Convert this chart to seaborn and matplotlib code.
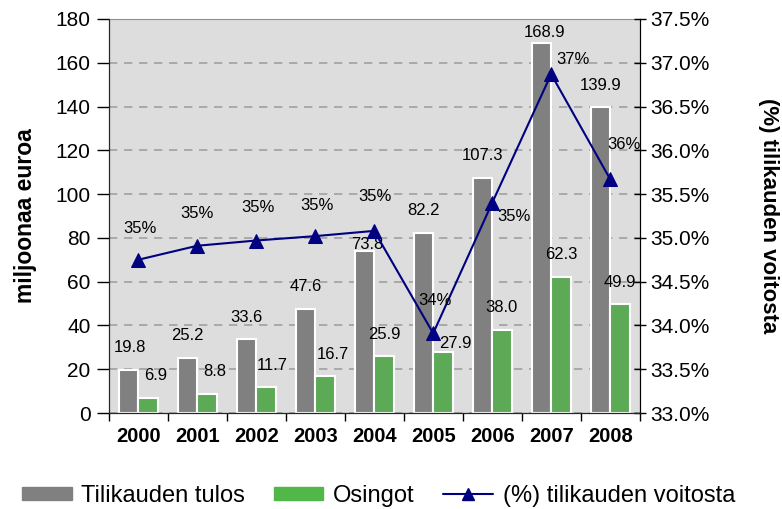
import numpy as np
import pandas as pd
import matplotlib
matplotlib.use("Agg")
import matplotlib.pyplot as plt
import seaborn as sns
from matplotlib.ticker import FuncFormatter, MultipleLocator
from matplotlib.lines import Line2D

# data
years = ['2000', '2001', '2002', '2003', '2004', '2005', '2006', '2007', '2008']
tulos = [19.8, 25.2, 33.6, 47.6, 73.8, 82.2, 107.3, 168.9, 139.9]
osingot = [6.9, 8.8, 11.7, 16.7, 25.9, 27.9, 38.0, 62.3, 49.9]
osuus = [34.75, 34.91, 34.97, 35.02, 35.08, 33.91, 35.40, 36.87, 35.67]
osuus_labels = ['35%', '35%', '35%', '35%', '35%', '34%', '35%', '37%', '36%']

# label placement (pixels from the mark)
tulos_off = [(1, 22), (0, 22), (0, 22), (0, 22), (3, 7), (0, 23), (0, 23), (3, 11), (0, 21)]
osingot_off = [(8, 22), (8, 22), (6, 22), (8, 22), (0, 22), (12, 8), (0, 22), (0, 22), (0, 21)]
osuus_off = [(2, 31), (0, 32), (2, 33), (2, 31), (1, 34), (2, 33), (22, -14), (22, 15), (14, 35)]

df = pd.DataFrame({'vuosi': years * 2,
                   'sarja': ['Tilikauden tulos'] * 9 + ['Osingot'] * 9,
                   'arvo': tulos + osingot})

sns.set_style("white")
plt.rcParams['font.family'] = ['Liberation Sans', 'DejaVu Sans']
plt.rcParams.update({'text.color': 'black', 'axes.labelcolor': 'black',
                     'xtick.color': 'black', 'ytick.color': 'black'})

fig = plt.figure(figsize=(7.82, 5.09), dpi=100)
ax = fig.add_axes([0.139, 0.1886, 0.679, 0.7741])
ax.set_facecolor('#DDDDDD')

sns.barplot(data=df, x='vuosi', y='arvo', hue='sarja', palette=['#808080', '#50B748'],
            width=0.66, edgecolor='white', linewidth=1.5, ax=ax)
ax.legend_.remove()

ax.set_xlim(-0.5, 8.5)
ax.set_ylim(0, 180)
ax.yaxis.set_major_locator(MultipleLocator(20))
ax.grid(axis='y', color='#A0A0A0', linestyle=(0, (5, 4)), linewidth=1.2)
ax.set_axisbelow(True)
ax.set_xlabel('')
ax.set_ylabel('miljoonaa euroa', fontsize=16.5, fontweight='bold', labelpad=13)
ax.tick_params(axis='y', labelsize=15, direction='out', length=9, width=1, pad=4, left=True)
ax.tick_params(axis='x', labelsize=14.5, length=0, pad=10)
for t in ax.get_xticklabels():
    t.set_fontweight('bold')
ax.set_xticks(np.arange(-0.5, 9, 1), minor=True)
ax.tick_params(axis='x', which='minor', direction='out', length=6, width=1, bottom=True)
for s in ['left', 'bottom', 'right']:
    ax.spines[s].set_color('black')
ax.spines['top'].set_color('#909090')

# bar value labels
for i in range(len(years)):
    ax.annotate(f'{tulos[i]:.1f}', (i - 0.165, tulos[i]), xytext=tulos_off[i], textcoords='offset pixels',
                ha='center', va='center', fontsize=12)
    ax.annotate(f'{osingot[i]:.1f}', (i + 0.165, osingot[i]), xytext=osingot_off[i], textcoords='offset pixels',
                ha='center', va='center', fontsize=12)

# share line on the right axis
ax2 = ax.twinx()
sns.lineplot(x=np.arange(len(years)), y=osuus, color='#000080', linewidth=1.5, marker='^',
             markersize=10, markeredgecolor='#000080', ax=ax2)
ax2.set_ylim(33.0, 37.5)
ax2.yaxis.set_major_locator(MultipleLocator(0.5))
ax2.yaxis.set_major_formatter(FuncFormatter(lambda v, p: f'{v:.1f}%'))
ax2.tick_params(axis='y', labelsize=15, direction='inout', length=8, width=1, right=True)
ax2.set_ylabel('(%) tilikauden voitosta', fontsize=16, fontweight='bold', rotation=270, labelpad=50)
ax2.spines['right'].set_color('black')
ax2.spines['top'].set_visible(False)

for i, (lab, off) in enumerate(zip(osuus_labels, osuus_off)):
    ax2.annotate(lab, (i, osuus[i]), xytext=off, textcoords='offset pixels',
                 ha='center', va='center', fontsize=12)

# legend at the bottom
handles = [plt.Rectangle((0, 0), 1, 1, color='#808080'),
           plt.Rectangle((0, 0), 1, 1, color='#50B748'),
           Line2D([], [], color='#000080', marker='^', markersize=9, linewidth=1.5)]
fig.legend(handles, ['Tilikauden tulos', 'Osingot', '(%) tilikauden voitosta'],
           loc='center', bbox_to_anchor=(0.484, 0.026), ncol=3, frameon=False, fontsize=17,
           handlelength=2.1, handleheight=0.45, columnspacing=1.2, handletextpad=0.42,
           borderaxespad=0, borderpad=0)

fig.savefig('out.png', dpi=100)
